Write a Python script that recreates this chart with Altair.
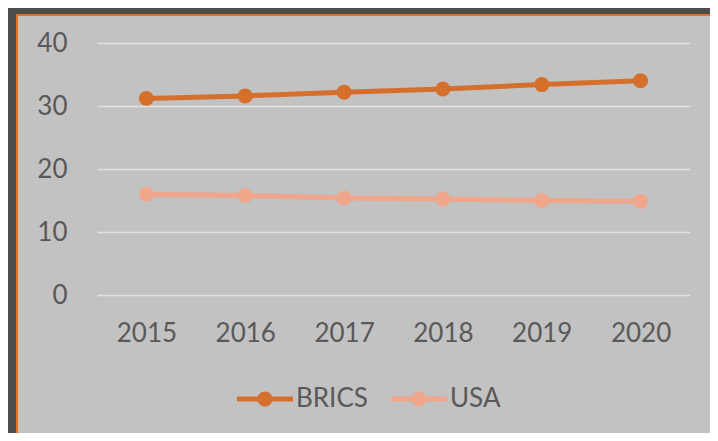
import altair as alt
import pandas as pd

years = ["2015", "2016", "2017", "2018", "2019", "2020"]
brics = [31.2, 31.6, 32.2, 32.7, 33.4, 34.0]
usa = [16.0, 15.8, 15.4, 15.25, 15.0, 14.9]
series = ["BRICS", "USA"]
colors = ["#D4702C", "#F0A68A"]

df = pd.DataFrame({
    "year": years * 2,
    "value": brics + usa,
    "series": [series[0]] * len(years) + [series[1]] * len(years),
})

W, H = 593, 252
FONT = "Lato"
TXT = "#595959"

legend_path = ("M-1,-0.09L1,-0.09L1,0.09L-1,0.09Z "
               "M0.27,0A0.27,0.27,0,1,1,-0.27,0A0.27,0.27,0,1,1,0.27,0Z")

bg = alt.Chart(pd.DataFrame({"a": [0]})).mark_rect(
    fill="#c2c2c2", stroke="#E8711F", strokeWidth=2
).encode(
    x=alt.value(-80), x2=alt.value(W + 60),
    y=alt.value(-28), y2=alt.value(H + 170),
)

lines = alt.Chart(df).mark_line(
    strokeWidth=5,
    point=alt.OverlayMarkDef(size=225, filled=True, opacity=1),
).encode(
    x=alt.X("year:O", scale=alt.Scale(padding=0.5),
            axis=alt.Axis(title=None, labelAngle=0, domain=False, ticks=False,
                          labelFontSize=26, labelFont=FONT, labelColor=TXT,
                          labelPadding=25, zindex=1)),
    y=alt.Y("value:Q", scale=alt.Scale(domain=[0, 40]),
            axis=alt.Axis(title=None, values=[0, 10, 20, 30, 40], domain=False,
                          ticks=False, grid=True, gridColor="#e2e2e2",
                          gridWidth=1.5, labelFontSize=26, labelFont=FONT,
                          labelColor=TXT, labelPadding=30, zindex=1)),
    color=alt.Color("series:N", scale=alt.Scale(domain=series, range=colors),
                    legend=alt.Legend(title=None, orient="none", legendX=140,
                                      legendY=328, direction="horizontal",
                                      symbolType=legend_path, symbolSize=3136,
                                      symbolStrokeWidth=0,
                                      labelFontSize=26, labelFont=FONT,
                                      labelColor=TXT, labelOffset=3,
                                      columnPadding=23, padding=0)),
)

chart = alt.layer(bg, lines).properties(
    width=W, height=H,
    autosize=alt.AutoSizeParams(type="none"),
    padding={"left": 89, "top": 35, "right": 20, "bottom": 138},
    background="#4d4d4d",
).configure_view(stroke=None)

chart.save("out.html", embed_options={"renderer": "svg", "actions": False})
